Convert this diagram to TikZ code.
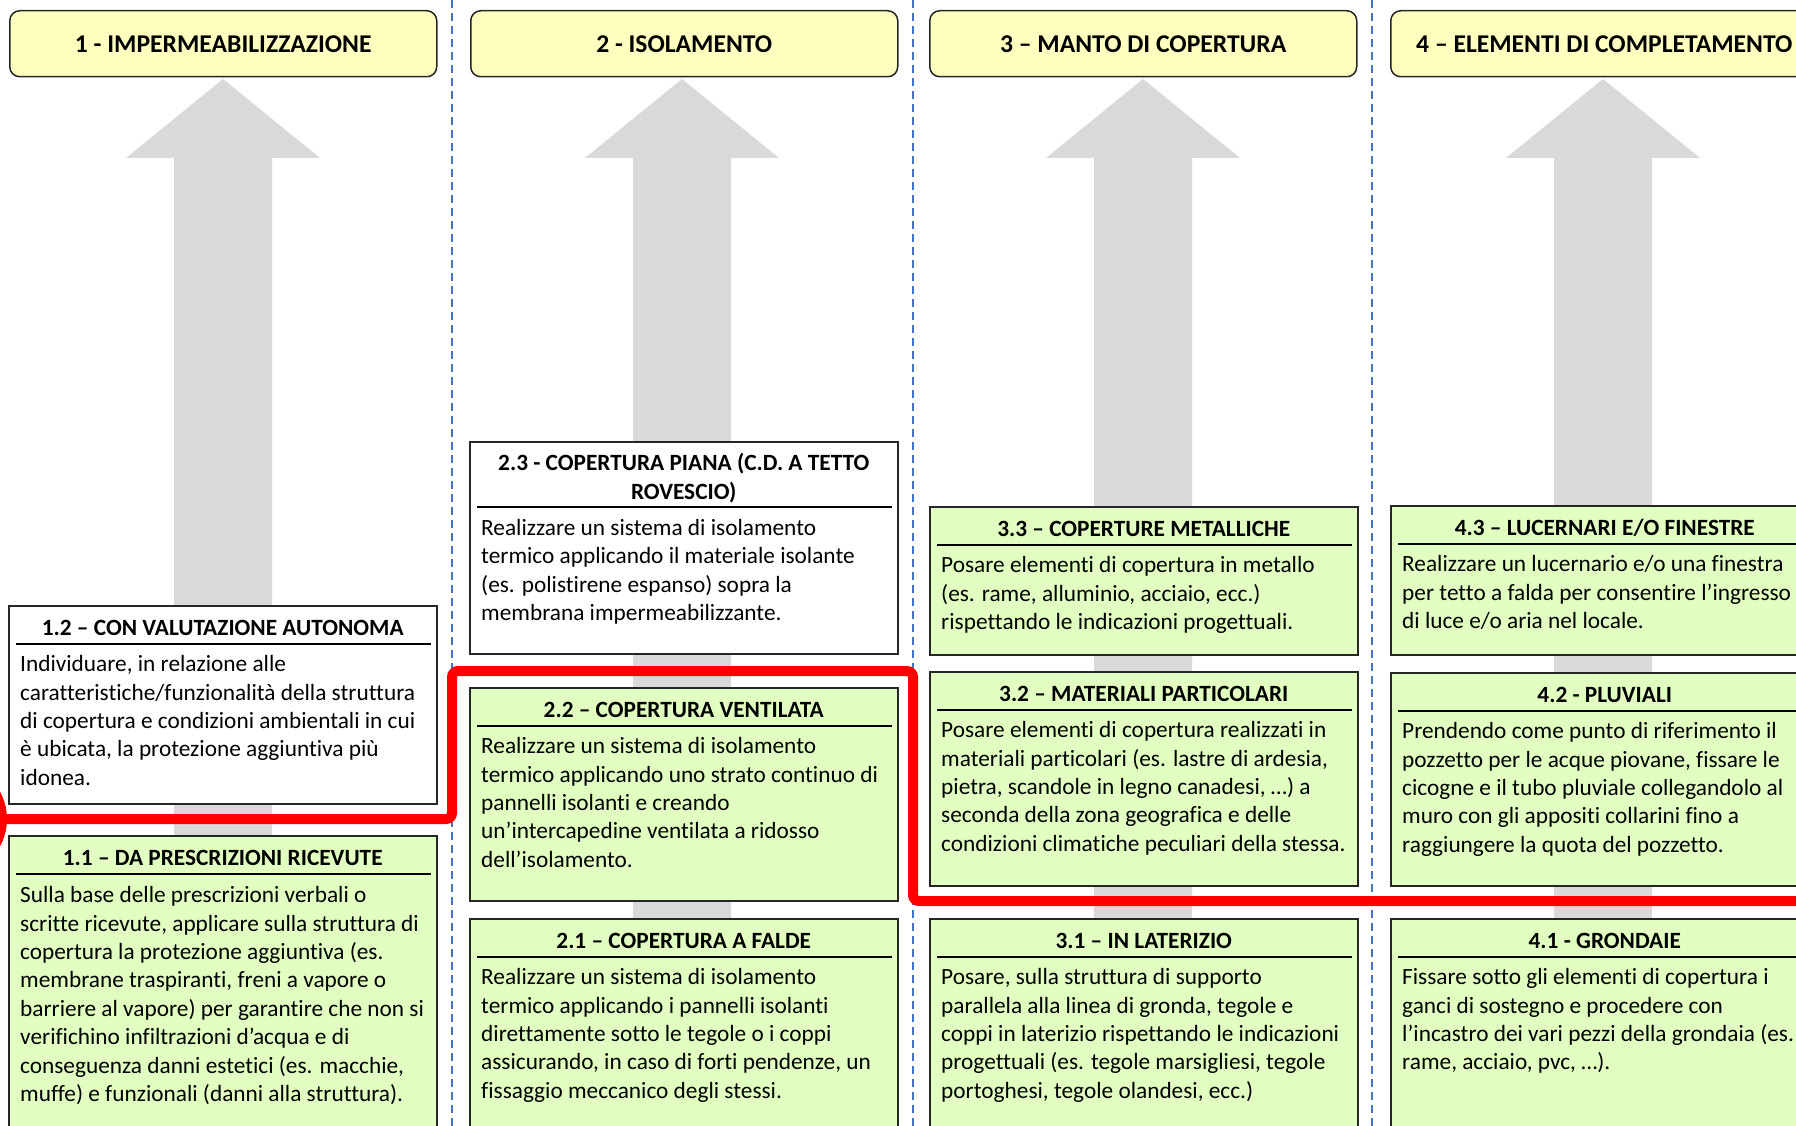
\documentclass[tikz,border=0pt]{standalone}
\usepackage{fontspec}
\setmainfont{Carlito}[Ligatures=NoCommon]
\usetikzlibrary{positioning}
\definecolor{headyellow}{HTML}{FFFFC0}
\definecolor{cardgreen}{HTML}{E0FFC0}
\definecolor{arrowgrey}{HTML}{D9D9D9}
\definecolor{sepblue}{HTML}{4472C4}
\definecolor{pathred}{HTML}{FF0000}
\tikzset{
	header/.style={
		draw=black!85,
		line width=1.5pt,
		fill=headyellow,
		rounded corners=10pt,
		anchor=north west,
		minimum width=427pt,
		minimum height=66pt,
		font={\bfseries\fontsize{25.6}{30}\selectfont}
	},
	card/.style={
		draw=black!85,
		line width=1.5pt,
		anchor=north west,
		inner sep=0pt,
		minimum width=428pt
	},
	cardtitle/.style={
		anchor=base,
		inner sep=0pt,
		align=center,
		font={\bfseries\fontsize{23.3}{28.4}\selectfont}
	},
	cardrule/.style={
		line width=1.3pt,
		black
	},
	cardtext/.style={
		anchor=north west,
		inner sep=0pt,
		align=left,
		font={\fontsize{23.3}{28.4}\selectfont}
	},
	separator/.style={
		sepblue,
		line width=1.5pt,
		dash pattern=on 8pt off 5pt
	},
	progress/.style={
		pathred,
		line width=10pt,
		rounded corners=6pt
	}
}

\begin{document}
\begin{tikzpicture}[x=1pt,y=-1pt]
\useasboundingbox (0,0) rectangle (1796,1126);
\clip (0,0) rectangle (1796,1126);

% grey arrows behind the columns
\fill[arrowgrey] (174,1140) -- (174,158) -- (126,158) -- (223,79) -- (320,158) -- (272,158) -- (272,1140) -- cycle;
\fill[arrowgrey] (633,1140) -- (633,158) -- (585,158) -- (682,79) -- (779,158) -- (731,158) -- (731,1140) -- cycle;
\fill[arrowgrey] (1094,1140) -- (1094,158) -- (1046,158) -- (1143,79) -- (1240,158) -- (1192,158) -- (1192,1140) -- cycle;
\fill[arrowgrey] (1554,1140) -- (1554,158) -- (1506,158) -- (1603,79) -- (1700,158) -- (1652,158) -- (1652,1140) -- cycle;

\coordinate (sepa top) at (452,0);
\coordinate (sepa bot) at (452,1126);
\coordinate (sepb top) at (913,0);
\coordinate (sepb bot) at (913,1126);
\coordinate (sepc top) at (1372,0);
\coordinate (sepc bot) at (1372,1126);
\draw[separator] (sepa top) -- (sepa bot);
\draw[separator] (sepb top) -- (sepb bot);
\draw[separator] (sepc top) -- (sepc bot);

% headers
\node[header] (imp) at (9,10) {1 - IMPERMEABILIZZAZIONE};
\node[header] (iso) at (470,10) {2 - ISOLAMENTO};
\node[header] (man) at (929,10) {3 – MANTO DI COPERTURA};
\node[header] (ele) at (1390,10) {4 – ELEMENTI DI COMPLETAMENTO};

% column 1
\node[card, fill=white, minimum height=198pt] (imp12) at (8,605) {};
\node[cardtitle] (imp12t) at ([yshift=-30pt]imp12.north) {1.2 – CON VALUTAZIONE AUTONOMA};
\draw[cardrule] ([shift={(8pt,-39pt)}]imp12.north west) -- ([shift={(-7pt,-39pt)}]imp12.north east);
\node[cardtext] (imp12x) at ([shift={(12pt,-46.5pt)}]imp12.north west) {\rule{0pt}{20pt}Individuare, in relazione alle\\caratteristiche/funzionalità della struttura\\di copertura e condizioni ambientali in cui\\è ubicata, la protezione aggiuntiva più\\idonea.};

\node[card, fill=cardgreen, minimum height=320pt] (imp11) at (8,835) {};
\node[cardtitle] (imp11t) at ([yshift=-30pt]imp11.north) {1.1 – DA PRESCRIZIONI RICEVUTE};
\draw[cardrule] ([shift={(8pt,-39pt)}]imp11.north west) -- ([shift={(-7pt,-39pt)}]imp11.north east);
\node[cardtext] (imp11x) at ([shift={(12pt,-47.5pt)}]imp11.north west) {\rule{0pt}{20pt}Sulla base delle prescrizioni verbali o\\scritte ricevute, applicare sulla struttura di\\copertura la protezione aggiuntiva (es.\\membrane traspiranti, freni a vapore o\\barriere al vapore) per garantire che non si\\verifichino infiltrazioni d’acqua e di\\conseguenza danni estetici (es. macchie,\\muffe) e funzionali (danni alla struttura).};

% column 2
\node[card, fill=white, minimum height=212pt] (iso23) at (469,441) {};
\node[cardtitle, anchor=north] (iso23t) at ([yshift=-9.5pt]iso23.north) {\rule{0pt}{20pt}2.3 - COPERTURA PIANA (C.D. A TETTO\\ROVESCIO)};
\draw[cardrule] ([shift={(8pt,-66pt)}]iso23.north west) -- ([shift={(-7pt,-66pt)}]iso23.north east);
\node[cardtext] (iso23x) at ([shift={(12pt,-74pt)}]iso23.north west) {\rule{0pt}{20pt}Realizzare un sistema di isolamento\\termico applicando il materiale isolante\\(es. polistirene espanso) sopra la\\membrana impermeabilizzante.};

\node[card, fill=cardgreen, minimum height=213pt] (iso22) at (469,687) {};
\node[cardtitle] (iso22t) at ([yshift=-30pt]iso22.north) {2.2 – COPERTURA VENTILATA};
\draw[cardrule] ([shift={(8pt,-39pt)}]iso22.north west) -- ([shift={(-7pt,-39pt)}]iso22.north east);
\node[cardtext] (iso22x) at ([shift={(12pt,-46.5pt)}]iso22.north west) {\rule{0pt}{20pt}Realizzare un sistema di isolamento\\termico applicando uno strato continuo di\\pannelli isolanti e creando\\un’intercapedine ventilata a ridosso\\dell’isolamento.};

\node[card, fill=cardgreen, minimum height=230pt] (iso21) at (469,918) {};
\node[cardtitle] (iso21t) at ([yshift=-30pt]iso21.north) {2.1 – COPERTURA A FALDE};
\draw[cardrule] ([shift={(8pt,-39pt)}]iso21.north west) -- ([shift={(-7pt,-39pt)}]iso21.north east);
\node[cardtext] (iso21x) at ([shift={(12pt,-46.5pt)}]iso21.north west) {\rule{0pt}{20pt}Realizzare un sistema di isolamento\\termico applicando i pannelli isolanti\\direttamente sotto le tegole o i coppi\\assicurando, in caso di forti pendenze, un\\fissaggio meccanico degli stessi.};

% column 3
\node[card, fill=cardgreen, minimum height=148pt] (man33) at (929,506) {};
\node[cardtitle] (man33t) at ([yshift=-30pt]man33.north) {3.3 – COPERTURE METALLICHE};
\draw[cardrule] ([shift={(8pt,-39pt)}]man33.north west) -- ([shift={(-7pt,-39pt)}]man33.north east);
\node[cardtext] (man33x) at ([shift={(12pt,-46.5pt)}]man33.north west) {\rule{0pt}{20pt}Posare elementi di copertura in metallo\\(es. rame, alluminio, acciaio, ecc.)\\rispettando le indicazioni progettuali.};

\node[card, fill=cardgreen, minimum height=214pt] (man32) at (929,671) {};
\node[cardtitle] (man32t) at ([yshift=-30pt]man32.north) {3.2 – MATERIALI PARTICOLARI};
\draw[cardrule] ([shift={(8pt,-39pt)}]man32.north west) -- ([shift={(-7pt,-39pt)}]man32.north east);
\node[cardtext] (man32x) at ([shift={(12pt,-46.5pt)}]man32.north west) {\rule{0pt}{20pt}Posare elementi di copertura realizzati in\\materiali particolari (es. lastre di ardesia,\\pietra, scandole in legno canadesi, …) a\\seconda della zona geografica e delle\\condizioni climatiche peculiari della stessa.};

\node[card, fill=cardgreen, minimum height=230pt] (man31) at (929,918) {};
\node[cardtitle] (man31t) at ([yshift=-30pt]man31.north) {3.1 – IN LATERIZIO};
\draw[cardrule] ([shift={(8pt,-39pt)}]man31.north west) -- ([shift={(-7pt,-39pt)}]man31.north east);
\node[cardtext] (man31x) at ([shift={(12pt,-46.5pt)}]man31.north west) {\rule{0pt}{20pt}Posare, sulla struttura di supporto\\parallela alla linea di gronda, tegole e\\coppi in laterizio rispettando le indicazioni\\progettuali (es. tegole marsigliesi, tegole\\portoghesi, tegole olandesi, ecc.)};

% column 4
\node[card, fill=cardgreen, minimum height=149pt] (ele43) at (1390,505) {};
\node[cardtitle] (ele43t) at ([yshift=-30pt]ele43.north) {4.3 – LUCERNARI E/O FINESTRE};
\draw[cardrule] ([shift={(8pt,-39pt)}]ele43.north west) -- ([shift={(-7pt,-39pt)}]ele43.north east);
\node[cardtext] (ele43x) at ([shift={(12pt,-46.5pt)}]ele43.north west) {\rule{0pt}{20pt}Realizzare un lucernario e/o una finestra\\per tetto a falda per consentire l’ingresso\\di luce e/o aria nel locale.};

\node[card, fill=cardgreen, minimum height=213pt] (ele42) at (1390,672) {};
\node[cardtitle] (ele42t) at ([yshift=-30pt]ele42.north) {4.2 - PLUVIALI};
\draw[cardrule] ([shift={(8pt,-39pt)}]ele42.north west) -- ([shift={(-7pt,-39pt)}]ele42.north east);
\node[cardtext] (ele42x) at ([shift={(12pt,-46.5pt)}]ele42.north west) {\rule{0pt}{20pt}Prendendo come punto di riferimento il\\pozzetto per le acque piovane, fissare le\\cicogne e il tubo pluviale collegandolo al\\muro con gli appositi collarini fino a\\raggiungere la quota del pozzetto.};

\node[card, fill=cardgreen, minimum height=230pt] (ele41) at (1390,918) {};
\node[cardtitle] (ele41t) at ([yshift=-30pt]ele41.north) {4.1 - GRONDAIE};
\draw[cardrule] ([shift={(8pt,-39pt)}]ele41.north west) -- ([shift={(-7pt,-39pt)}]ele41.north east);
\node[cardtext] (ele41x) at ([shift={(12pt,-46.5pt)}]ele41.north west) {\rule{0pt}{20pt}Fissare sotto gli elementi di copertura i\\ganci di sostegno e procedere con\\l’incastro dei vari pezzi della grondaia (es.\\rame, acciaio, pvc, …).};

% red line through the reached steps
\coordinate (start) at (0,819);
\coordinate (finish) at (1800,901);
\fill[pathred] (-50,819) circle[radius=57pt];
\draw[progress] (start) -- (452,819) -- (452,671) -- (913,671) -- (913,901) -- (finish);
\end{tikzpicture}
\end{document}
